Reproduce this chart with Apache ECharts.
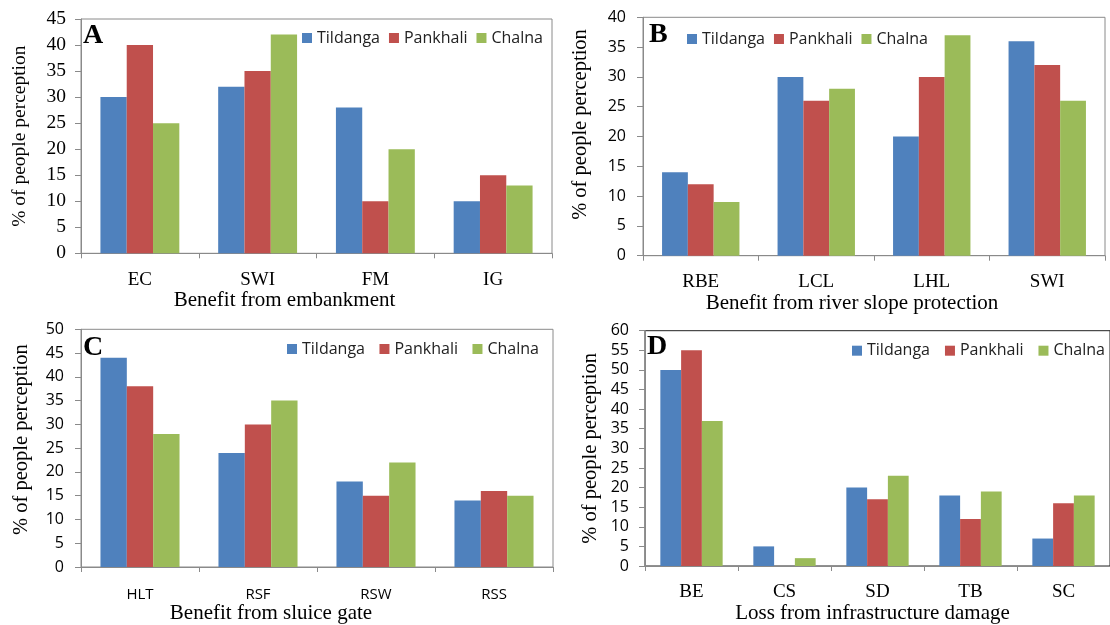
<!DOCTYPE html>
<html>
<head>
<meta charset="utf-8">
<script src="https://cdn.jsdelivr.net/npm/echarts@6/dist/echarts.min.js"></script>
<style>
html,body{margin:0;padding:0;background:#fff;}
#chart{width:1110px;height:625px;}
</style>
</head>
<body>
<div id="chart"></div>
<script>
// ---- Data ----
const seriesNames = ['Tildanga', 'Pankhali', 'Chalna'];
const colors = ['#4F81BD', '#C0504D', '#9BBB59'];

const categoriesA = ['EC', 'SWI', 'FM', 'IG'];
const tildangaA = [30, 32, 28, 10];
const pankhaliA = [40, 35, 10, 15];
const chalnaA = [25, 42, 20, 13];

const categoriesB = ['RBE', 'LCL', 'LHL', 'SWI'];
const tildangaB = [14, 30, 20, 36];
const pankhaliB = [12, 26, 30, 32];
const chalnaB = [9, 28, 37, 26];

const categoriesC = ['HLT', 'RSF', 'RSW', 'RSS'];
const tildangaC = [44, 24, 18, 14];
const pankhaliC = [38, 30, 15, 16];
const chalnaC = [28, 35, 22, 15];

const categoriesD = ['BE', 'CS', 'SD', 'TB', 'SC'];
const tildangaD = [50, 5, 20, 18, 7];
const pankhaliD = [55, 0, 17, 12, 16];
const chalnaD = [37, 2, 23, 19, 18];

const yMax = [45, 40, 50, 60];
const xNames = ['Benefit from embankment', 'Benefit from river slope protection', 'Benefit from sluice gate', 'Loss from infrastructure damage'];
const yName = '% of people perception';
const panelLetters = ['A', 'B', 'C', 'D'];

// ---- Layout / styles ----
const SERIF = '"Liberation Serif", "Times New Roman", serif';
const SANS = '"Open Sans", "Liberation Sans", sans-serif';

const panels = [
  { cats: categoriesA, vals: [tildangaA, pankhaliA, chalnaA],
    grid: {left: 81, top: 19, right: 558, bottom: 371.7},
    yFont: SERIF, yFontSize: 19.5, yMargin: 15, xFont: SERIF, xFontSize: 19, xMargin: 17,
    xNameGap: 36, xNamePad: [0, 64, 0, 0], yNameSize: 19.5, yNameGap: 51, yNamePad: [0, 0, 0, 0],
    legend: {left: 302, top: 30, itemGap: 9}, letter: {x: 83, y: 36}, border: '#8a8a8a' },
  { cats: categoriesB, vals: [tildangaB, pankhaliB, chalnaB],
    grid: {left: 643, top: 17.3, right: 5, bottom: 369.3},
    yFont: SANS, yFontSize: 16, yMargin: 17, xFont: SERIF, xFontSize: 19, xMargin: 17,
    xNameGap: 36, xNamePad: [0, 44, 0, 0], yNameSize: 20.5, yNameGap: 52, yNamePad: [0, 0, 0, 24],
    legend: {left: 687, top: 31, itemGap: 9}, letter: {x: 649, y: 35}, border: '#8a8a8a' },
  { cats: categoriesC, vals: [tildangaC, pankhaliC, chalnaC],
    grid: {left: 81, top: 329.3, right: 557, bottom: 57.7},
    yFont: SANS, yFontSize: 16, yMargin: 17, xFont: SANS, xFontSize: 15, xMargin: 20,
    xNameGap: 36, xNamePad: [0, 92, 0, 0], yNameSize: 20.5, yNameGap: 49, yNamePad: [0, 0, 0, 17],
    legend: {left: 287, top: 341, itemGap: 14.5}, letter: {x: 83, y: 348}, border: '#8a8a8a' },
  { cats: categoriesD, vals: [tildangaD, pankhaliD, chalnaD],
    grid: {left: 645, top: 330.7, right: -8, bottom: 57.7},
    yFont: SANS, yFontSize: 16, yMargin: 16, xFont: SERIF, xFontSize: 19, xMargin: 17,
    xNameGap: 37, xNamePad: [0, 10, 0, 0], yNameSize: 20.5, yNameGap: 44, yNamePad: [0, 0, 0, 0],
    legend: {left: 852, top: 342.7, itemGap: 15}, letter: {x: 647, y: 347}, border: '#222' }
];

const option = {
  animation: false,
  backgroundColor: '#fff',
  grid: [], xAxis: [], yAxis: [], series: [], legend: [], graphic: []
};

panels.forEach((p, i) => {
  option.grid.push(Object.assign({show: true, borderColor: p.border, borderWidth: 1, backgroundColor: 'transparent'}, p.grid));
  option.xAxis.push({
    type: 'category', gridIndex: i, data: p.cats,
    name: xNames[i], nameLocation: 'middle', nameGap: p.xNameGap,
    nameTextStyle: {fontFamily: SERIF, fontSize: 21, color: '#000', padding: p.xNamePad},
    axisLine: {lineStyle: {color: '#8a8a8a', width: 1}},
    axisTick: {show: true, length: 5, lineStyle: {color: '#8a8a8a'}},
    axisLabel: {fontFamily: p.xFont, fontSize: p.xFontSize, color: '#000', margin: p.xMargin},
    splitLine: {show: false}
  });
  option.yAxis.push({
    type: 'value', gridIndex: i, min: 0, max: yMax[i], interval: 5,
    name: yName, nameLocation: 'middle', nameGap: p.yNameGap, nameRotate: 90,
    nameTextStyle: {fontFamily: SERIF, fontSize: p.yNameSize, color: '#000', padding: p.yNamePad},
    axisLine: {show: true, lineStyle: {color: '#8a8a8a', width: 1}},
    axisTick: {show: true, length: 6, lineStyle: {color: '#8a8a8a'}},
    axisLabel: {fontFamily: p.yFont, fontSize: p.yFontSize, color: '#000', margin: p.yMargin},
    splitLine: {show: false}
  });
  seriesNames.forEach((n, k) => {
    option.series.push({
      type: 'bar', name: n, xAxisIndex: i, yAxisIndex: i,
      data: p.vals[k], barGap: '0%', barCategoryGap: '33%',
      itemStyle: {color: colors[k]}
    });
  });
  option.legend.push({
    data: seriesNames, left: p.legend.left, top: p.legend.top, padding: 0,
    itemGap: p.legend.itemGap, itemWidth: 10, itemHeight: 10, icon: 'rect',
    textStyle: {fontFamily: SANS, fontSize: 16, color: '#222', lineHeight: 16}
  });
  option.graphic.push({
    type: 'text', left: p.letter.x, top: p.letter.y - 14, z: 100,
    style: {text: panelLetters[i], font: 'bold 28px ' + SERIF, fill: '#000'}
  });
});

const chart = echarts.init(document.getElementById('chart'), null, {renderer: 'canvas'});
chart.setOption(option);
</script>
</body>
</html>
